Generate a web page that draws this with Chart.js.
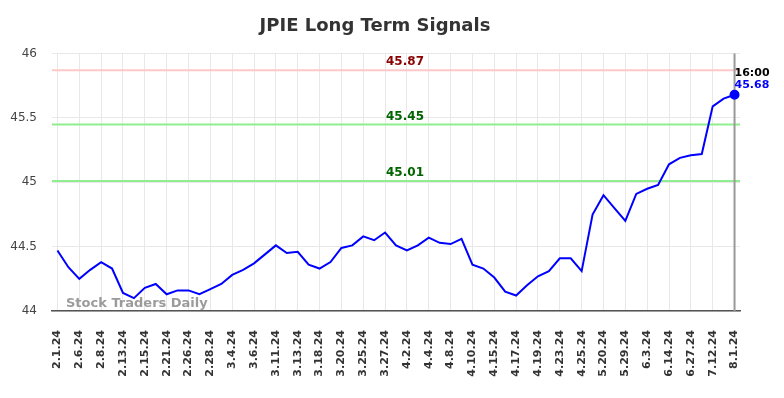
<!DOCTYPE html>
<html>
<head>
<meta charset="utf-8">
<script src="https://cdn.jsdelivr.net/npm/chart.js@4"></script>
<style>
  html, body { margin: 0; padding: 0; background: #fff; }
  #wrap { width: 784px; height: 398px; }
</style>
</head>
<body>
<div id="wrap"><canvas id="chart"></canvas></div>
<script>
// tick labels (one every second close)
const dates = [
  "2.1.24", "2.6.24", "2.8.24", "2.13.24", "2.15.24", "2.21.24", "2.26.24", "2.28.24",
  "3.4.24", "3.6.24", "3.11.24", "3.13.24", "3.18.24", "3.20.24", "3.25.24", "3.27.24",
  "4.2.24", "4.4.24", "4.8.24", "4.10.24", "4.15.24", "4.17.24", "4.19.24", "4.23.24",
  "4.25.24", "5.20.24", "5.29.24", "6.3.24", "6.14.24", "6.27.24", "7.12.24", "8.1.24"
];

// closing prices
const closes = [
  44.47, 44.34, 44.25, 44.32, 44.38, 44.33, 44.14, 44.10, 44.18, 44.21,
  44.13, 44.16, 44.16, 44.13, 44.17, 44.21, 44.28, 44.32, 44.37, 44.44,
  44.51, 44.45, 44.46, 44.36, 44.33, 44.38, 44.49, 44.51, 44.58, 44.55,
  44.61, 44.51, 44.47, 44.51, 44.57, 44.53, 44.52, 44.56, 44.36, 44.33,
  44.26, 44.15, 44.12, 44.20, 44.27, 44.31, 44.41, 44.41, 44.31, 44.75,
  44.90, 44.80, 44.70, 44.91, 44.95, 44.98, 45.14, 45.19, 45.21, 45.22,
  45.59, 45.65, 45.68
];

// signal levels: resistance, then supports
const signalLevels = [45.87, 45.45, 45.01];
const signalKinds = ["resistance", "support", "support"];

const lastTime = "16:00";
const yTicks = [44, 44.5, 45, 45.5, 46];

const FONT = "'DejaVu Sans', sans-serif";

/* horizontal signal lines, last-point marker line and texts */
const overlay = {
    id: "overlay",
    beforeDatasetsDraw (chart) {
        const {ctx, chartArea, scales} = chart;
        const x = scales.x, y = scales.y;
        ctx.save();
        // signal lines
        signalLevels.forEach((lvl, i) => {
            const py = y.getPixelForValue(lvl);
            ctx.strokeStyle = signalKinds[i] === "resistance" ? "#ffc8c8" : "#90ee90";
            ctx.lineWidth = 2;
            ctx.beginPath();
            ctx.moveTo(chartArea.left, py);
            ctx.lineTo(chartArea.right, py);
            ctx.stroke();
            ctx.fillStyle = signalKinds[i] === "resistance" ? "#8b0000" : "#006400";
            ctx.font = "bold 12px " + FONT;
            ctx.textAlign = "center";
            ctx.textBaseline = "bottom";
            ctx.fillText(lvl.toFixed(2), (chartArea.left + chartArea.right) / 2 + 9, py - 2);
        });
        // vertical line at last close
        const lx = x.getPixelForValue(closes.length - 1);
        ctx.strokeStyle = "#999";
        ctx.lineWidth = 2;
        ctx.beginPath();
        ctx.moveTo(lx, chartArea.top);
        ctx.lineTo(lx, chartArea.bottom);
        ctx.stroke();
        // watermark
        ctx.fillStyle = "rgba(150,150,150,0.95)";
        ctx.font = "bold 13px " + FONT;
        ctx.textAlign = "left";
        ctx.textBaseline = "alphabetic";
        ctx.fillText("Stock Traders Daily", chartArea.left + 14, chartArea.bottom - 4);
        ctx.restore();
    },
    afterDatasetsDraw (chart) {
        const {ctx, scales} = chart;
        const last = closes.length - 1;
        const lx = scales.x.getPixelForValue(last);
        const ly = scales.y.getPixelForValue(closes[last]);
        ctx.save();
        ctx.font = "bold 11px " + FONT;
        ctx.textAlign = "left";
        ctx.textBaseline = "alphabetic";
        ctx.fillStyle = "#000";
        ctx.fillText(lastTime, lx, ly - 19);
        ctx.fillStyle = "#0000ff";
        ctx.fillText(closes[last].toFixed(2), lx, ly - 7);
        ctx.restore();
    }
};

const points = closes.map((v, i) => ({x: i, y: v}));

new Chart(document.getElementById("chart").getContext("2d"), {
    type: "line",
    data: {
        datasets: [{
            data: points,
            borderColor: "#0000ff",
            backgroundColor: "#0000ff",
            borderWidth: 2,
            tension: 0,
            pointRadius: (c) => c.dataIndex === closes.length - 1 ? 4 : 0,
            pointHoverRadius: 0
        }]
    },
    options: {
        responsive: true,
        maintainAspectRatio: false,
        animation: false,
        layout: { padding: { left: 10, right: 44, top: 0, bottom: 0 } },
        plugins: {
            legend: { display: false },
            tooltip: { enabled: false },
            title: {
                display: true,
                text: "JPIE Long Term Signals",
                color: "#333",
                font: { family: FONT, size: 18, weight: "bold" },
                padding: { top: 16, bottom: 16 }
            }
        },
        scales: {
            x: {
                type: "linear",
                min: -0.5,
                max: closes.length - 0.5,
                afterBuildTicks (scale) {
                    scale.ticks = dates.map((d, i) => ({ value: i * 2 }));
                },
                afterFit (scale) { scale.height = 87; },
                grid: { color: "#e8e8e8", drawTicks: true, tickLength: 12, tickColor: "rgba(0,0,0,0)" },
                border: { display: true, color: "#555", width: 1.5 },
                ticks: {
                    autoSkip: false,
                    maxRotation: 90,
                    minRotation: 90,
                    padding: 7,
                    color: "#333",
                    font: { family: FONT, size: 11, weight: "bold" },
                    callback: (v) => dates[Math.round(v / 2)]
                }
            },
            y: {
                min: 44,
                max: 46,
                afterBuildTicks (scale) {
                    scale.ticks = yTicks.map(v => ({ value: v }));
                },
                afterFit (scale) { scale.width = 42; },
                grid: { color: "#e8e8e8", drawTicks: false },
                border: { display: false },
                ticks: {
                    padding: 15,
                    color: "#444",
                    font: { family: FONT, size: 12 },
                    callback: (v) => String(v)
                }
            }
        }
    },
    plugins: [overlay]
});
</script>
</body>
</html>
